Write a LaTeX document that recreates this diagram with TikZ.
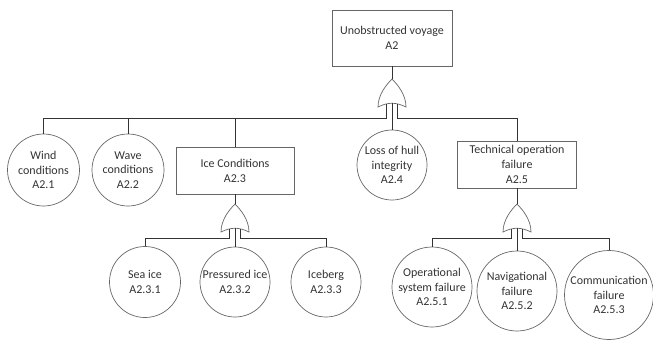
\documentclass[tikz,border=0pt]{standalone}
\usepackage{fontspec}
\setmainfont{Carlito}
\newcommand\orgatedraw[3]{%
 \coordinate (#1t) at (#2,#3);
 \coordinate (#1l) at ({#2-5.5},{#3+24.85});
 \coordinate (#1r) at ({#2+5.5},{#3+24.85});
 \coordinate (#1c) at ({#2},{#3+24.25});
 \draw[gate] ({#2-14},{#3+28}) .. controls ({#2-14},{#3+16}) and ({#2-6},{#3+6}) .. (#2,#3)
   .. controls ({#2+6},{#3+6}) and ({#2+14},{#3+16}) .. ({#2+14},{#3+28})
   .. controls ({#2+4},{#3+23}) and ({#2-4},{#3+23}) .. ({#2-14},{#3+28}) -- cycle;
}
\begin{document}
\begin{tikzpicture}[x=1pt,y=-1pt,
  every node/.style={font=\fontsize{12}{14.8}\selectfont, align=center, text=black!80},
  evt/.style={draw=black!60, line width=0.7pt, circle, inner sep=0pt, minimum size=#1},
  box/.style={draw=black!60, line width=0.7pt, rectangle, inner sep=0pt},
  wire/.style={draw=black!80, line width=0.9pt},
  gate/.style={draw=black!60, line width=0.7pt, fill=white}]
\useasboundingbox (0,0) rectangle (653,340);
\coordinate (bus0) at (0,118);
\coordinate (bus1) at (0,238);

\node[box, minimum width=120pt, minimum height=56pt] (top) at (392,38) {Unobstructed voyage\\A2};
\node[evt=72pt] (wind) at (43.5,170) {Wind\\conditions\\A2.1};
\node[evt=72pt] (wave) at (128,170) {Wave\\conditions\\A2.2};
\node[box, minimum width=118pt, minimum height=47pt] (ice) at (235,170.5) {Ice Conditions\\A2.3};
\node[evt=70pt] (hull) at (392,165) {Loss of hull\\integrity\\A2.4};
\node[box, minimum width=119pt, minimum height=47pt] (tech) at (517,164.5) {Technical operation\\failure\\A2.5};
\node[evt=71pt] (sea) at (145,282) {Sea ice\\A2.3.1};
\node[evt=70pt] (press) at (235,282) {Pressured ice\\A2.3.2};
\node[evt=70pt] (berg) at (326,282) {Iceberg\\A2.3.3};
\node[evt=80pt] (oper) at (432,287) {Operational\\system failure\\A2.5.1};
\node[evt=80pt] (navi) at (517,291) {Navigational\\failure\\A2.5.2};
\node[evt=89pt] (comm) at (609,295) {Communication\\failure\\A2.5.3};

\orgatedraw{g0}{392}{79}
\orgatedraw{g1}{235}{204}
\orgatedraw{g2}{517}{204}

\draw[wire] (top.south) -- (g0t);
\draw[wire] (g0l) -- (g0l |- bus0) -| (wind.north);
\draw[wire] (g0l) -- (g0l |- bus0) -| (wave.north);
\draw[wire] (g0l) -- (g0l |- bus0) -| (ice.north);
\draw[wire] (g0c) -- (hull.north);
\draw[wire] (g0r) -- (g0r |- bus0) -| (tech.north);

\draw[wire] (ice.south) -- (g1t);
\draw[wire] (g1l) -- (g1l |- bus1) -| (sea.north);
\draw[wire] (g1c) -- (press.north);
\draw[wire] (g1r) -- (g1r |- bus1) -| (berg.north);

\draw[wire] (tech.south) -- (g2t);
\draw[wire] (g2l) -- (g2l |- bus1) -| (oper.north);
\draw[wire] (g2c) -- (navi.north);
\draw[wire] (g2r) -- (g2r |- bus1) -| (comm.north);
\end{tikzpicture}
\end{document}
